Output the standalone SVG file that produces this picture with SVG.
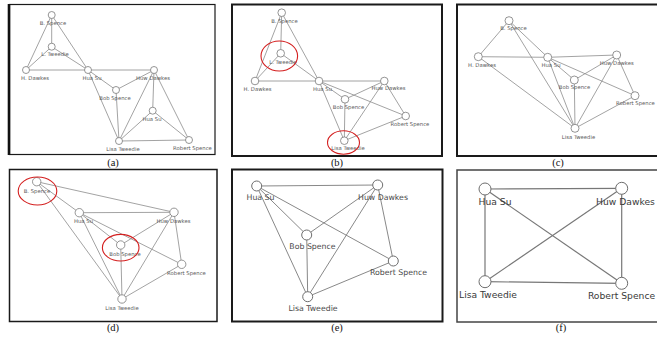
<svg xmlns="http://www.w3.org/2000/svg" width="657" height="337" viewBox="0 0 657 337">
  <style>
    .bg { fill: #ffffff; }
    .frame { fill: none; stroke: #1a1a1a; }
    .e { stroke: #8c8c8c; stroke-width: 0.8; fill: none; }
    .e2 { stroke: #7a7a7a; stroke-width: 0.9; fill: none; }
    .e3 { stroke: #777777; stroke-width: 1.2; fill: none; }
    .n { fill: #ffffff; stroke: #7a7a7a; stroke-width: 0.8; }
    .n2 { fill: #ffffff; stroke: #6e6e6e; stroke-width: 1; }
    .t { font-family: "DejaVu Sans", "Liberation Sans", sans-serif; font-size: 5.3px; fill: #5a5a5a; text-anchor: middle; }
    .t2 { font-family: "DejaVu Sans", "Liberation Sans", sans-serif; font-size: 7.8px; fill: #4a4a4a; text-anchor: middle; }
    .t3 { font-family: "DejaVu Sans", "Liberation Sans", sans-serif; font-size: 9.2px; fill: #3a3a3a; text-anchor: middle; }
    .cap { font-family: "Liberation Serif", "Times New Roman", serif; font-size: 10.5px; fill: #111111; text-anchor: middle; }
    .hl { fill: none; stroke: #d42020; stroke-width: 1.1; }
  </style>

  <rect class="bg" x="0" y="0" width="657" height="337"/>

  <!-- panel frames -->
  <g id="frames">
    <rect class="frame" x="9.5" y="4.5" width="205.5" height="150" stroke-width="1.2"/>
    <line x1="9" y1="4" x2="9" y2="155" stroke="#111" stroke-width="2.6"/>
    <rect class="frame" x="232" y="4.5" width="210" height="151.5" stroke-width="2"/>
    <rect class="frame" x="457" y="4.5" width="210" height="151.5" stroke-width="2"/>
    <rect class="frame" x="9.5" y="169.5" width="207.5" height="152" stroke-width="1.5"/>
    <rect class="frame" x="232" y="169.5" width="210.5" height="152" stroke-width="2"/>
    <rect x="457" y="170" width="210" height="152" fill="none" stroke="#444" stroke-width="1.5"/>
  </g>

  <!-- captions -->
  <g id="captions">
    <text class="cap" x="113" y="165.5">(a)</text>
    <text class="cap" x="337" y="166">(b)</text>
    <text class="cap" x="558" y="166">(c)</text>
    <text class="cap" x="113" y="331">(d)</text>
    <text class="cap" x="337" y="331">(e)</text>
    <text class="cap" x="561" y="331">(f)</text>
  </g>

  <!-- (a) -->
  <g id="panel-a">
    <g id="a-connectors">
      <line class="e" x1="51.7" y1="15" x2="51.7" y2="46.7"/>
      <line class="e" x1="51.7" y1="15" x2="26" y2="70"/>
      <line class="e" x1="51.7" y1="15" x2="88" y2="70"/>
      <line class="e" x1="51.7" y1="46.7" x2="26" y2="70"/>
      <line class="e" x1="51.7" y1="46.7" x2="88" y2="70"/>
      <line class="e" x1="26" y1="70" x2="88" y2="70"/>
      <line class="e" x1="88" y1="70" x2="154" y2="70"/>
      <line class="e" x1="88" y1="70" x2="116" y2="90"/>
      <line class="e" x1="88" y1="70" x2="119" y2="141"/>
      <line class="e" x1="116" y1="90" x2="154" y2="70"/>
      <line class="e" x1="116" y1="90" x2="119" y2="141"/>
      <line class="e" x1="154" y1="70" x2="119" y2="141"/>
      <line class="e" x1="154" y1="70" x2="152.7" y2="110.7"/>
      <line class="e" x1="154" y1="70" x2="189" y2="140"/>
      <line class="e" x1="152.7" y1="110.7" x2="119" y2="141"/>
      <line class="e" x1="152.7" y1="110.7" x2="189" y2="140"/>
      <line class="e" x1="119" y1="141" x2="189" y2="140"/>
    </g>
    <g id="a-b-spence"><circle class="n" cx="51.7" cy="15" r="3.5"/><text class="t" x="53" y="25">B. Spence</text></g>
    <g id="a-l-tweedie"><circle class="n" cx="51.7" cy="46.7" r="3.5"/><text class="t" x="55" y="55.5">L. Tweedie</text></g>
    <g id="a-h-dawkes"><circle class="n" cx="26" cy="70" r="3.5"/><text class="t" x="35" y="80">H. Dawkes</text></g>
    <g id="a-hua-su"><circle class="n" cx="88" cy="70" r="3.5"/><text class="t" x="92" y="80">Hua Su</text></g>
    <g id="a-huw-dawkes"><circle class="n" cx="154" cy="70" r="3.5"/><text class="t" x="153" y="80">Huw Dawkes</text></g>
    <g id="a-bob-spence"><circle class="n" cx="116" cy="90" r="3.5"/><text class="t" x="115" y="100">Bob Spence</text></g>
    <g id="a-hua-su-2"><circle class="n" cx="152.7" cy="110.7" r="3.5"/><text class="t" x="152" y="120.5">Hua Su</text></g>
    <g id="a-lisa-tweedie"><circle class="n" cx="119" cy="141" r="3.5"/><text class="t" x="123" y="150.5">Lisa Tweedie</text></g>
    <g id="a-robert-spence"><circle class="n" cx="189" cy="140" r="3.5"/><text class="t" x="192.5" y="150">Robert Spence</text></g>
  </g>

  <!-- (b) -->
  <g id="panel-b">
    <g id="b-connectors">
      <line class="e" x1="281.7" y1="12.7" x2="280.7" y2="53.3"/>
      <line class="e" x1="281.7" y1="12.7" x2="255" y2="81"/>
      <line class="e" x1="281.7" y1="12.7" x2="319" y2="81"/>
      <line class="e" x1="280.7" y1="53.3" x2="255" y2="81"/>
      <line class="e" x1="280.7" y1="53.3" x2="319" y2="81"/>
      <line class="e" x1="255" y1="81" x2="319" y2="81"/>
      <line class="e" x1="319" y1="81" x2="384.3" y2="81"/>
      <line class="e" x1="319" y1="81" x2="345" y2="99.3"/>
      <line class="e" x1="319" y1="81" x2="344.3" y2="140.7"/>
      <line class="e" x1="319" y1="81" x2="405.7" y2="116"/>
      <line class="e" x1="345" y1="99.3" x2="384.3" y2="81"/>
      <line class="e" x1="345" y1="99.3" x2="344.3" y2="140.7"/>
      <line class="e" x1="384.3" y1="81" x2="344.3" y2="140.7"/>
      <line class="e" x1="384.3" y1="81" x2="405.7" y2="116"/>
      <line class="e" x1="344.3" y1="140.7" x2="405.7" y2="116"/>
    </g>
    <g id="b-b-spence"><circle class="n" cx="281.7" cy="12.7" r="3.8"/><text class="t" x="284.5" y="22.5">B. Spence</text></g>
    <g id="b-l-tweedie"><circle class="n" cx="280.7" cy="53.3" r="3.8"/><text class="t" x="283" y="63.5">L. Tweedie</text></g>
    <g id="b-h-dawkes"><circle class="n" cx="255" cy="81" r="3.8"/><text class="t" x="257.5" y="91">H. Dawkes</text></g>
    <g id="b-hua-su"><circle class="n" cx="319" cy="81" r="3.8"/><text class="t" x="322.5" y="91">Hua Su</text></g>
    <g id="b-huw-dawkes"><circle class="n" cx="384.3" cy="81" r="3.8"/><text class="t" x="388.5" y="90">Huw Dawkes</text></g>
    <g id="b-bob-spence"><circle class="n" cx="345" cy="99.3" r="3.8"/><text class="t" x="348.5" y="109">Bob Spence</text></g>
    <g id="b-robert-spence"><circle class="n" cx="405.7" cy="116" r="3.8"/><text class="t" x="410" y="126">Robert Spence</text></g>
    <g id="b-lisa-tweedie"><circle class="n" cx="344.3" cy="140.7" r="3.8"/><text class="t" x="348" y="150">Lisa Tweedie</text></g>
    <g id="b-highlights">
      <ellipse class="hl" cx="279.3" cy="56" rx="18.3" ry="15"/>
      <ellipse class="hl" cx="343.5" cy="142.5" rx="16" ry="11.7"/>
    </g>
  </g>

  <!-- (c) -->
  <g id="panel-c">
    <g id="c-connectors">
      <line class="e" x1="509" y1="20.7" x2="478.3" y2="56.7"/>
      <line class="e" x1="509" y1="20.7" x2="547.7" y2="57.3"/>
      <line class="e" x1="509" y1="20.7" x2="575" y2="128.3"/>
      <line class="e" x1="478.3" y1="56.7" x2="547.7" y2="57.3"/>
      <line class="e" x1="478.3" y1="56.7" x2="575" y2="128.3"/>
      <line class="e" x1="547.7" y1="57.3" x2="616.7" y2="55"/>
      <line class="e" x1="547.7" y1="57.3" x2="574.3" y2="80"/>
      <line class="e" x1="547.7" y1="57.3" x2="635" y2="95.7"/>
      <line class="e" x1="547.7" y1="57.3" x2="575" y2="128.3"/>
      <line class="e" x1="574.3" y1="80" x2="616.7" y2="55"/>
      <line class="e" x1="574.3" y1="80" x2="575" y2="128.3"/>
      <line class="e" x1="616.7" y1="55" x2="575" y2="128.3"/>
      <line class="e" x1="616.7" y1="55" x2="635" y2="95.7"/>
      <line class="e" x1="575" y1="128.3" x2="635" y2="95.7"/>
    </g>
    <g id="c-b-spence"><circle class="n" cx="509" cy="20.7" r="4"/><text class="t" x="513.5" y="30">B. Spence</text></g>
    <g id="c-h-dawkes"><circle class="n" cx="478.3" cy="56.7" r="4"/><text class="t" x="482" y="66.5">H. Dawkes</text></g>
    <g id="c-hua-su"><circle class="n" cx="547.7" cy="57.3" r="4"/><text class="t" x="551" y="66.5">Hua Su</text></g>
    <g id="c-huw-dawkes"><circle class="n" cx="616.7" cy="55" r="4"/><text class="t" x="616.7" y="65">Huw Dawkes</text></g>
    <g id="c-bob-spence"><circle class="n" cx="574.3" cy="80" r="4"/><text class="t" x="574.5" y="89">Bob Spence</text></g>
    <g id="c-robert-spence"><circle class="n" cx="635" cy="95.7" r="4"/><text class="t" x="635.5" y="105">Robert Spence</text></g>
    <g id="c-lisa-tweedie"><circle class="n" cx="575" cy="128.3" r="4"/><text class="t" x="578.5" y="138.5">Lisa Tweedie</text></g>
  </g>

  <!-- (d) -->
  <g id="panel-d">
    <g id="d-connectors">
      <line class="e" x1="36.7" y1="181.7" x2="174" y2="212.3"/>
      <line class="e" x1="36.7" y1="181.7" x2="79.3" y2="212.7"/>
      <line class="e" x1="36.7" y1="181.7" x2="122" y2="299"/>
      <line class="e" x1="79.3" y1="212.7" x2="174" y2="212.3"/>
      <line class="e" x1="79.3" y1="212.7" x2="120.7" y2="245"/>
      <line class="e" x1="79.3" y1="212.7" x2="181.7" y2="264.3"/>
      <line class="e" x1="79.3" y1="212.7" x2="122" y2="299"/>
      <line class="e" x1="120.7" y1="245" x2="174" y2="212.3"/>
      <line class="e" x1="120.7" y1="245" x2="122" y2="299"/>
      <line class="e" x1="174" y1="212.3" x2="122" y2="299"/>
      <line class="e" x1="174" y1="212.3" x2="181.7" y2="264.3"/>
      <line class="e" x1="122" y1="299" x2="181.7" y2="264.3"/>
    </g>
    <g id="d-b-spence"><circle class="n" cx="36.7" cy="181.7" r="4.2"/><text class="t" x="37" y="193">B. Spence</text></g>
    <g id="d-hua-su"><circle class="n" cx="79.3" cy="212.7" r="4.2"/><text class="t" x="83.5" y="223">Hua Su</text></g>
    <g id="d-huw-dawkes"><circle class="n" cx="174" cy="212.3" r="4.2"/><text class="t" x="173.5" y="223">Huw Dawkes</text></g>
    <g id="d-bob-spence"><circle class="n" cx="120.7" cy="245" r="4.2"/><text class="t" x="125" y="256.3">Bob Spence</text></g>
    <g id="d-robert-spence"><circle class="n" cx="181.7" cy="264.3" r="4.2"/><text class="t" x="186.5" y="275.3">Robert Spence</text></g>
    <g id="d-lisa-tweedie"><circle class="n" cx="122" cy="299" r="4.2"/><text class="t" x="122" y="310.3">Lisa Tweedie</text></g>
    <g id="d-highlights">
      <ellipse class="hl" cx="37.5" cy="191" rx="19.3" ry="14"/>
      <ellipse class="hl" cx="120.7" cy="247.7" rx="18.3" ry="13.3"/>
    </g>
  </g>

  <!-- (e) -->
  <g id="panel-e">
    <g id="e-connectors">
      <line class="e2" x1="256.7" y1="186" x2="377.7" y2="185"/>
      <line class="e2" x1="256.7" y1="186" x2="306.7" y2="235"/>
      <line class="e2" x1="256.7" y1="186" x2="393.3" y2="261"/>
      <line class="e2" x1="256.7" y1="186" x2="307.7" y2="296.7"/>
      <line class="e2" x1="377.7" y1="185" x2="306.7" y2="235"/>
      <line class="e2" x1="377.7" y1="185" x2="307.7" y2="296.7"/>
      <line class="e2" x1="377.7" y1="185" x2="393.3" y2="261"/>
      <line class="e2" x1="306.7" y1="235" x2="307.7" y2="296.7"/>
      <line class="e2" x1="307.7" y1="296.7" x2="393.3" y2="261"/>
    </g>
    <g id="e-hua-su"><circle class="n2" cx="256.7" cy="186" r="5"/><text class="t2" x="260.5" y="199.5">Hua Su</text></g>
    <g id="e-huw-dawkes"><circle class="n2" cx="377.7" cy="185" r="5"/><text class="t2" x="383" y="199.5">Huw Dawkes</text></g>
    <g id="e-bob-spence"><circle class="n2" cx="306.7" cy="235" r="5"/><text class="t2" x="312.5" y="249">Bob Spence</text></g>
    <g id="e-robert-spence"><circle class="n2" cx="393.3" cy="261" r="5"/><text class="t2" x="398.5" y="274.5">Robert Spence</text></g>
    <g id="e-lisa-tweedie"><circle class="n2" cx="307.7" cy="296.7" r="5"/><text class="t2" x="313" y="311">Lisa Tweedie</text></g>
  </g>

  <!-- (f) -->
  <g id="panel-f">
    <g id="f-connectors">
      <line class="e3" x1="485" y1="189" x2="621.7" y2="188.3"/>
      <line class="e3" x1="485" y1="189" x2="485" y2="281.7"/>
      <line class="e3" x1="485" y1="189" x2="621.7" y2="283.3"/>
      <line class="e3" x1="621.7" y1="188.3" x2="485" y2="281.7"/>
      <line class="e3" x1="621.7" y1="188.3" x2="621.7" y2="283.3"/>
      <line class="e3" x1="485" y1="281.7" x2="621.7" y2="283.3"/>
    </g>
    <g id="f-hua-su"><circle class="n2" cx="485" cy="189" r="6"/><text class="t3" x="495" y="204.5">Hua Su</text></g>
    <g id="f-huw-dawkes"><circle class="n2" cx="621.7" cy="188.3" r="6"/><text class="t3" x="625.5" y="204.5">Huw Dawkes</text></g>
    <g id="f-lisa-tweedie"><circle class="n2" cx="485" cy="281.7" r="6"/><text class="t3" x="488" y="297.5">Lisa Tweedie</text></g>
    <g id="f-robert-spence"><circle class="n2" cx="621.7" cy="283.3" r="6"/><text class="t3" x="621.5" y="299">Robert Spence</text></g>
  </g>
</svg>
